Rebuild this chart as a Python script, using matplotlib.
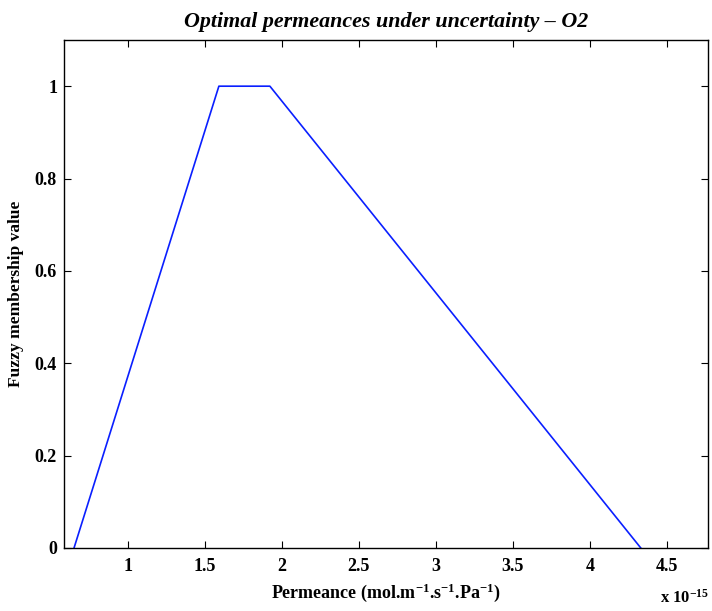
import matplotlib
matplotlib.use("Agg")
import matplotlib.pyplot as plt
from matplotlib.ticker import FuncFormatter

# fuzzy membership of the optimal O2 permeance (trapezoid)
scale = 1e-15
permeance = [0.652e-15, 1.592e-15, 1.923e-15, 4.33e-15]
membership = [0.0, 1.0, 1.0, 0.0]
x_ticks = [1.0, 1.5, 2.0, 2.5, 3.0, 3.5, 4.0, 4.5]
y_ticks = [0, 0.2, 0.4, 0.6, 0.8, 1.0]

plt.rcParams['font.family'] = ['Liberation Serif', 'DejaVu Serif']
plt.rcParams['font.weight'] = 'bold'
plt.rcParams['mathtext.default'] = 'regular'

fig = plt.figure(figsize=(7.12, 6.11), dpi=100)
ax = fig.add_axes([64/712, 1 - 548/611, (708-64)/712, (548-40)/611])

ax.plot(permeance, membership, color='#0a1fff', lw=1.2)

ax.set_xlim(0.587e-15, 4.766e-15)
ax.set_ylim(0, 1.1)
ax.set_xticks([t*scale for t in x_ticks])
ax.xaxis.set_major_formatter(FuncFormatter(lambda v, p: ('%g' % round(v/scale, 3))))
ax.set_yticks(y_ticks)
ax.yaxis.set_major_formatter(FuncFormatter(lambda v, p: '%g' % round(v, 3)))

ax.tick_params(direction='in', length=5, width=0.8, top=True, right=True,
               labelsize=13, colors='black')
ax.tick_params(axis='x', pad=7)
ax.tick_params(axis='y', pad=5)
for lab in ax.get_xticklabels() + ax.get_yticklabels():
    lab.set_fontweight('bold')
for s in ax.spines.values():
    s.set_linewidth(1.0)

ax.set_title('Optimal permeances under uncertainty \u2013 O2', fontsize=15.8,
             fontweight='bold', style='italic', pad=9)
ax.set_xlabel('Permeance (mol.m$^{\u22121}$.s$^{\u22121}$.Pa$^{\u22121}$)',
              fontsize=13, fontweight='bold', labelpad=5)
ax.set_ylabel('Fuzzy membership value', fontsize=12.5, fontweight='bold', labelpad=8)

fig.text(709/712, 1 - 598/611, 'x 10$^{\u221215}$', ha='right', va='center',
         fontsize=12, fontweight='bold')

fig.savefig('out.png', dpi=100)
